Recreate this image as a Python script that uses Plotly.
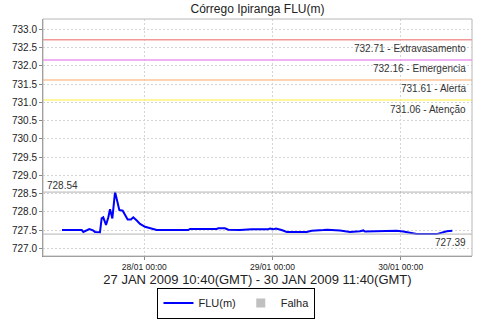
import plotly.graph_objects as go

# ---- data ----
times = [
    "2009-01-27 08:35", "2009-01-27 12:17", "2009-01-27 12:35", "2009-01-27 13:42",
    "2009-01-27 14:24", "2009-01-27 14:46", "2009-01-27 15:42", "2009-01-27 16:01",
    "2009-01-27 16:19", "2009-01-27 16:50", "2009-01-27 17:16", "2009-01-27 17:35",
    "2009-01-27 18:01", "2009-01-27 18:31", "2009-01-27 18:57", "2009-01-27 19:19",
    "2009-01-27 19:57", "2009-01-27 20:23", "2009-01-27 20:53", "2009-01-27 21:30",
    "2009-01-27 21:56", "2009-01-27 22:35", "2009-01-27 23:12", "2009-01-28 00:08",
    "2009-01-28 01:04", "2009-01-28 02:19", "2009-01-28 08:14", "2009-01-28 08:33",
    "2009-01-28 13:33", "2009-01-28 13:51", "2009-01-28 15:06", "2009-01-28 15:44",
    "2009-01-28 17:55", "2009-01-28 20:06", "2009-01-28 23:09", "2009-01-28 23:32",
    "2009-01-29 00:09", "2009-01-29 00:39", "2009-01-29 01:43", "2009-01-29 02:40",
    "2009-01-29 06:24", "2009-01-29 07:20", "2009-01-29 09:31", "2009-01-29 10:16",
    "2009-01-29 12:38", "2009-01-29 14:31", "2009-01-29 16:23", "2009-01-29 17:00",
    "2009-01-29 17:19", "2009-01-29 20:08", "2009-01-29 20:44", "2009-01-29 23:15",
    "2009-01-30 00:29", "2009-01-30 03:00", "2009-01-30 06:44", "2009-01-30 07:41",
    "2009-01-30 08:37", "2009-01-30 09:40",
]
flu = [
    727.50, 727.50, 727.45, 727.53,
    727.49, 727.45, 727.44, 727.82,
    727.85, 727.64, 727.85, 728.07,
    727.82, 728.54, 728.28, 728.05,
    728.03, 727.91, 727.79, 727.79,
    727.85, 727.76, 727.67, 727.59,
    727.55, 727.50, 727.50, 727.53,
    727.53, 727.55, 727.55, 727.51,
    727.50, 727.52, 727.52, 727.54,
    727.52, 727.54, 727.50, 727.45,
    727.45, 727.48, 727.50, 727.51,
    727.49, 727.45, 727.47, 727.49,
    727.46, 727.47, 727.49, 727.48,
    727.46, 727.39, 727.39, 727.42,
    727.47, 727.48,
]
levels = [732.71, 732.16, 731.61, 731.06]
level_names = ["Extravasamento", "Emergencia", "Alerta", "Atenção"]
level_colors = ["#F29898", "#EE94EE", "#FCC49A", "#FFF47A"]
max_val = 728.54
min_val = 727.39
title = "Córrego Ipiranga FLU(m)"
x_title = "27 JAN 2009 10:40(GMT) - 30 JAN 2009 11:40(GMT)"
x_range = ["2009-01-27 05:02", "2009-01-30 13:21"]
y_range = [726.79, 733.28]

FONT = "Liberation Sans"
GRID_DASH = "2px,2px"

fig = go.Figure()
fig.add_trace(go.Scatter(x=times, y=flu, mode="lines", name="FLU(m)",
                         line=dict(color="#0000FF", width=2)))
fig.add_trace(go.Scatter(x=[None], y=[None], mode="markers", name="Falha",
                         marker=dict(symbol="square", color="#C0C0C0", size=9)))

for v, nm, c in zip(levels, level_names, level_colors):
    fig.add_hline(y=v, line=dict(color=c, width=1.5))
    fig.add_annotation(x=1, xref="paper", y=v, yref="y", xanchor="right", yanchor="middle",
                       xshift=-4, yshift=-9, showarrow=False,
                       text=f"{v:.2f} - {nm}",
                       font=dict(family=FONT, size=10, color="#333333"))

for v in (max_val, min_val):
    fig.add_hline(y=v, line=dict(color="#B4B4B4", width=1))
fig.add_annotation(x=0, xref="paper", y=max_val, yref="y", xanchor="left", yanchor="middle",
                   xshift=2, yshift=7, showarrow=False, text=f"{max_val:.2f}",
                   font=dict(family=FONT, size=10, color="#333333"))
fig.add_annotation(x=1, xref="paper", y=min_val, yref="y", xanchor="right", yanchor="middle",
                   xshift=-4, yshift=-8, showarrow=False, text=f"{min_val:.2f}",
                   font=dict(family=FONT, size=10, color="#333333"))

# plot border (light) on top/right
fig.add_shape(type="rect", xref="paper", yref="paper", x0=0, y0=0, x1=1, y1=1,
              line=dict(color="#B8B8B8", width=1), layer="above")

fig.update_layout(
    width=480, height=320,
    margin=dict(l=43, r=8, t=19, b=64, autoexpand=False),
    paper_bgcolor="white", plot_bgcolor="white",
    title=dict(text=title, x=0.5, xanchor="center", xref="paper",
               yref="container", y=1 - 9 / 320, yanchor="middle",
               font=dict(family=FONT, size=12, color="#222222")),
    showlegend=True,
    legend=dict(orientation="h", x=0.451, xanchor="center",
                yref="container", y=1.5 / 320, yanchor="bottom",
                bordercolor="#000000", borderwidth=1, bgcolor="white",
                font=dict(family=FONT, size=11, color="#222222"),
                itemwidth=30, tracegroupgap=0),
    xaxis=dict(type="date", range=x_range, dtick=86400000, tick0="2009-01-28",
               tickformat="%d/%m %H:%M", automargin=False,
               tickfont=dict(family=FONT, size=8.5, color="#222222"),
               showgrid=True, gridcolor="#D4D4D4", griddash=GRID_DASH, gridwidth=1,
               showline=True, linecolor="#888888", linewidth=1,
               ticks="outside", ticklen=3, tickcolor="#888888",
               zeroline=False,
               title=dict(text=x_title, standoff=4,
                          font=dict(family=FONT, size=13, color="#222222"))),
    yaxis=dict(range=y_range, dtick=0.5, tick0=727, tickformat=".1f", automargin=False,
               tickfont=dict(family=FONT, size=10, color="#222222"),
               showgrid=True, gridcolor="#D4D4D4", griddash=GRID_DASH, gridwidth=1,
               showline=True, linecolor="#888888", linewidth=1,
               ticks="outside", ticklen=3, tickcolor="#888888",
               zeroline=False),
)

fig.write_html("out.html", config={"displayModeBar": False},
               post_script="document.body.style.margin='0';document.body.style.padding='0';")
